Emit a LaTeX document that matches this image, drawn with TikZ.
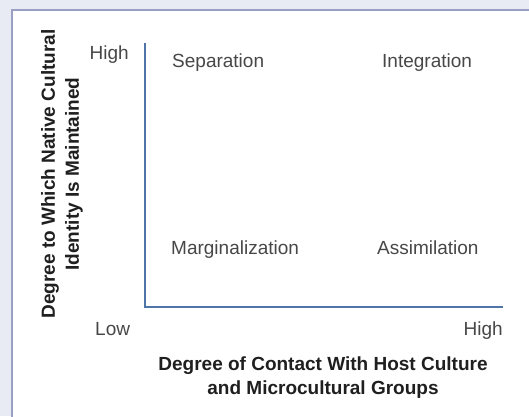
\documentclass[tikz,border=0pt]{standalone}
\usepackage{fontspec}
\setmainfont{Liberation Sans}
\usepackage{tikz}
\usetikzlibrary{calc}
\definecolor{axisblue}{HTML}{4F74A8}
\definecolor{framegray}{HTML}{9AA0C4}
\definecolor{pagetint}{HTML}{E9EBF4}

\begin{document}
\begin{tikzpicture}[x=1pt, y=-1pt,
      quadrant/.style ={text=black!72, font=\fontsize{19}{24}\selectfont, inner sep=0pt},
      scalelabel/.style ={text=black!72, font=\fontsize{19}{24}\selectfont, inner sep=0pt},
      axistitle/.style ={text=black!88, font=\fontsize{19}{24}\selectfont\bfseries, align=center, inner sep=0pt},
      axisline/.style ={draw=axisblue, line width=2pt}
    ]
    \useasboundingbox (0,0) rectangle (529,416) ;
    \fill [pagetint] (0,0) rectangle (529,416) ;
    \draw [framegray, line width=1.5pt, fill=white] (12,10) rectangle (540,430) ;

    \coordinate (origin) at (145,307) ;
    \coordinate (ytop) at (145,43) ;
    \coordinate (xend) at (503,307) ;
    \draw [axisline] (ytop) -- (origin) -- (xend) ;

    \node [quadrant, anchor=base west] (separation) at (172,67) {Separation} ;
    \node [quadrant, anchor=base west] (integration) at (382,67) {Integration} ;
    \node [quadrant, anchor=base west] (marginal) at (171,254) {Marginalization} ;
    \node [quadrant, anchor=base west] (assimilation) at (377,254) {Assimilation} ;

    \node [scalelabel, anchor=base east] (yhigh) at (129,59) {High} ;
    \node [scalelabel, anchor=base west] (xlow) at (95,335) {Low} ;
    \node [scalelabel, anchor=base east] (xhigh) at (503,335) {High} ;

    \node [axistitle] (xtitle) at (323,378) {Degree of Contact With Host Culture\\and Microcultural Groups} ;
    \node [axistitle, rotate=90] (ytitle) at (62,174) {Degree to Which Native Cultural\\Identity Is Maintained} ;
  \end{tikzpicture}
\end{document}
